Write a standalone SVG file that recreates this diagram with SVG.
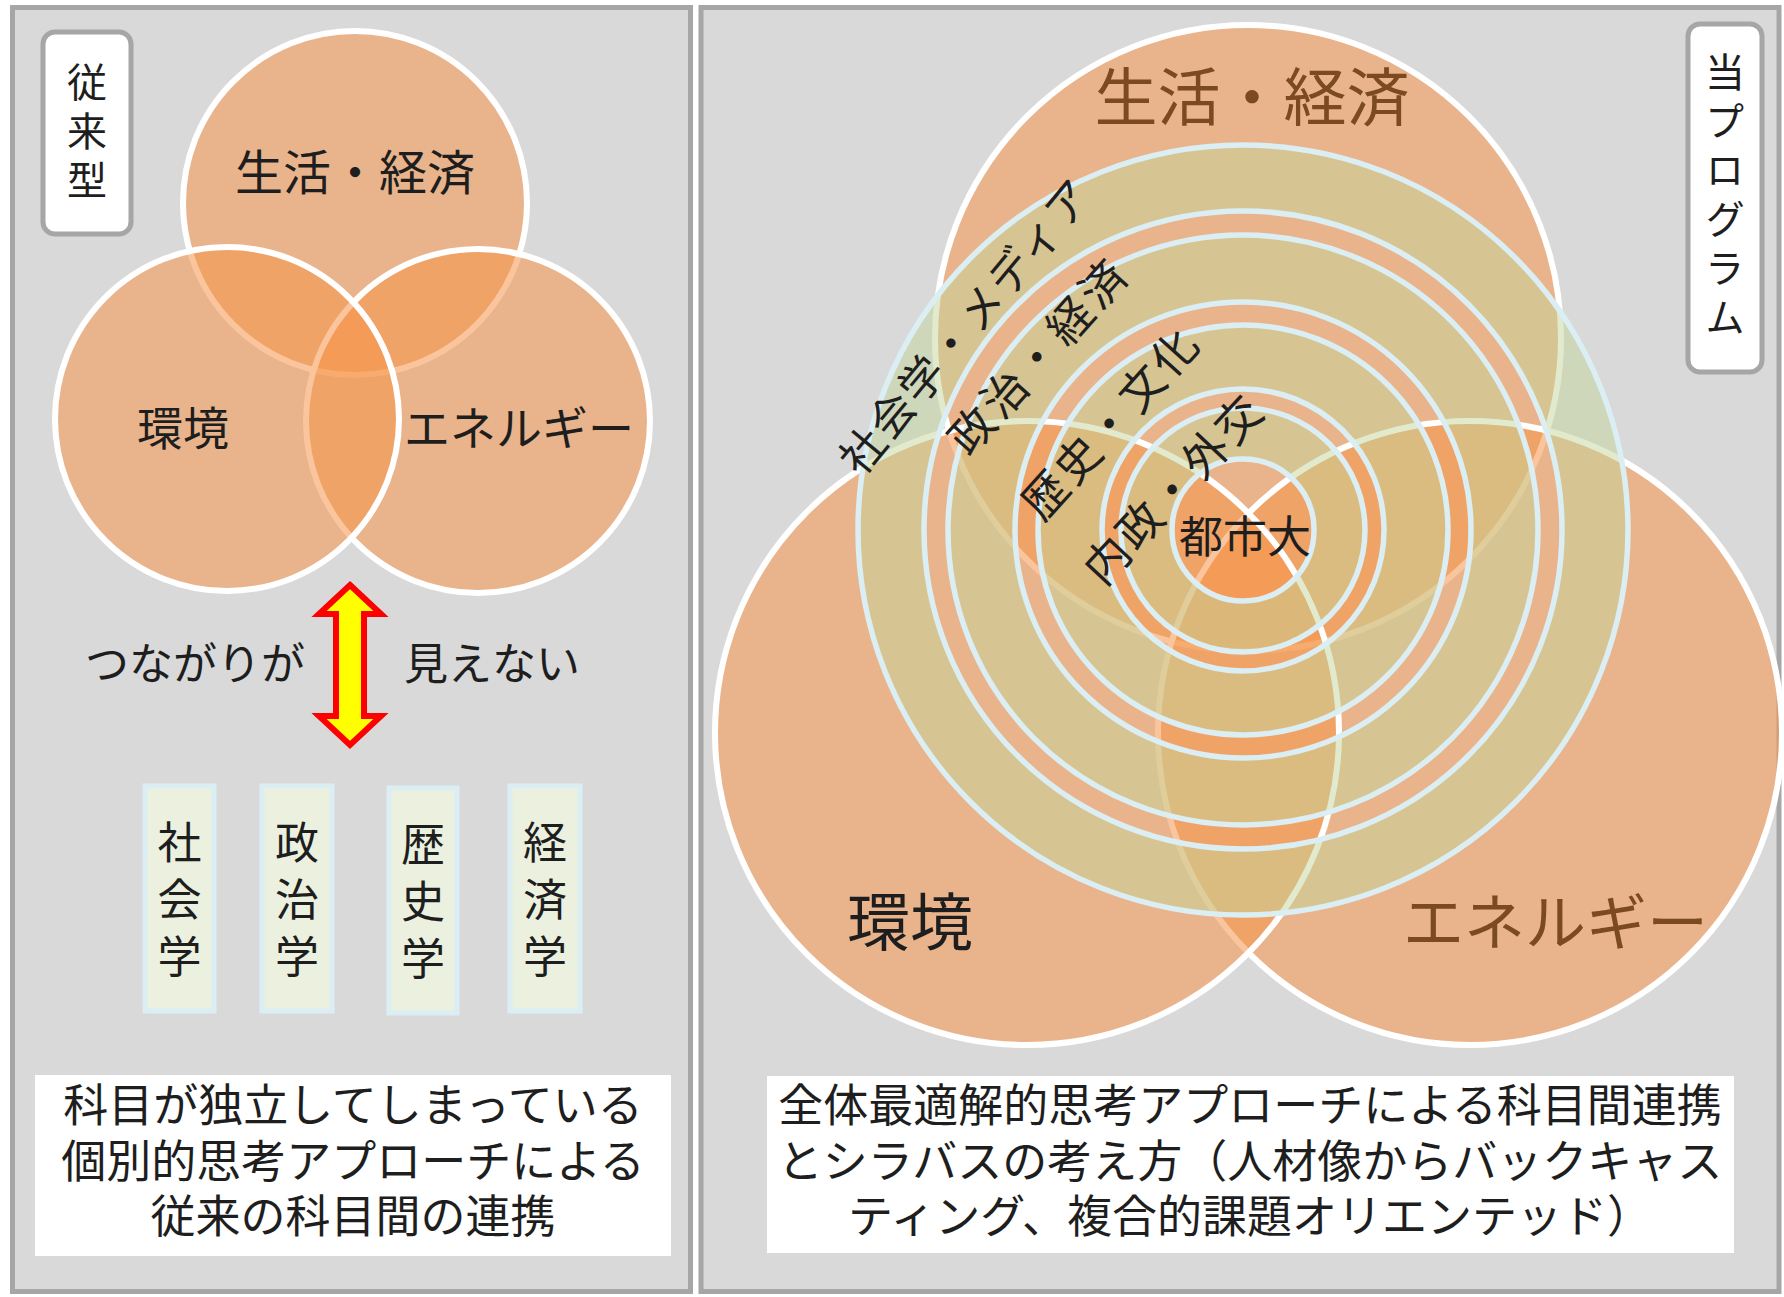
<svg xmlns="http://www.w3.org/2000/svg" width="1784" height="1297" viewBox="0 0 1784 1297">
<style>
text{font-family:"Noto Sans CJK JP","Noto Sans",sans-serif;fill:#1e1e1e}
.v{writing-mode:vertical-rl;text-orientation:upright}
.panel{fill:#d9d9d9;stroke:#a6a6a6;stroke-width:5}
.tag{fill:#ffffff;stroke:#a6a6a6;stroke-width:5}
.venn{fill:#f5964a;fill-opacity:0.55;stroke:#ffffff;stroke-width:6}
.ring{fill:#c3d69b;fill-opacity:0.5;fill-rule:evenodd;stroke:none}
.redge{fill:none;stroke:#daeef3;stroke-width:5.5}
.subj{fill:#ebf1de;stroke:#dbeef4;stroke-width:5}
.note{fill:#ffffff}
.brown{fill:#7b4a20}
.c{text-anchor:middle}
</style>
<rect width="1784" height="1297" fill="#ffffff"/>
<g id="panel-left">
<rect class="panel" x="12.5" y="7.5" width="678" height="1284"/>
</g>
<g id="panel-right">
<rect class="panel" x="701" y="7.5" width="1078" height="1284"/>
</g>
<g id="tag-conventional">
<rect class="tag" x="43" y="32" width="88" height="202" rx="12"/>
<text class="v" x="87" y="62" font-size="40" letter-spacing="9">従来型</text>
</g>
<g id="venn-left">
<circle id="lv-life" class="venn" cx="355" cy="203" r="172"/>
<circle id="lv-energy" class="venn" cx="478" cy="421" r="172"/>
<circle id="lv-env" class="venn" cx="227" cy="419" r="172"/>
<text class="c" x="355" y="190" font-size="48">生活・経済</text>
<text class="c" x="183" y="445" font-size="46">環境</text>
<text x="404" y="445" font-size="46">エネルギー</text>
</g>
<g id="connectors">
<path id="arrow-both" d="M350,585 L381,614 L364,614 L364,716 L381,716 L350,745 L319,716 L336,716 L336,614 L319,614 Z" fill="#ffff00" stroke="#ff0000" stroke-width="6" stroke-linejoin="miter"/>
</g>
<g id="label-invisible">
<text x="85" y="680" font-size="44">つながりが</text>
<text x="404" y="680" font-size="44">見えない</text>
</g>
<g id="subj-sociology">
<rect class="subj" x="145" y="786" width="69" height="225"/>
<text class="v" x="179.5" y="820" font-size="44" letter-spacing="13">社会学</text>
</g>
<g id="subj-politics">
<rect class="subj" x="262" y="786" width="70" height="225"/>
<text class="v" x="297" y="820" font-size="44" letter-spacing="13">政治学</text>
</g>
<g id="subj-history">
<rect class="subj" x="389" y="788" width="68" height="225"/>
<text class="v" x="423" y="822" font-size="44" letter-spacing="13">歴史学</text>
</g>
<g id="subj-economics">
<rect class="subj" x="510" y="786" width="70" height="225"/>
<text class="v" x="545" y="820" font-size="44" letter-spacing="13">経済学</text>
</g>
<g id="note-left">
<rect class="note" x="35" y="1075" width="636" height="181"/>
<text class="c" font-size="45"><tspan x="353" y="1122">科目が独立してしまっている</tspan><tspan x="353" y="1178">個別的思考アプローチによる</tspan><tspan x="353" y="1233">従来の科目間の連携</tspan></text>
</g>
<g id="venn-right">
<circle id="rv-life" class="venn" cx="1248" cy="338" r="313"/>
<circle id="rv-energy" class="venn" cx="1470" cy="733" r="312"/>
<circle id="rv-env" class="venn" cx="1027" cy="733" r="312"/>
</g>
<g id="rings">
<path id="ring-d" class="ring" d="M858,530 a385,385 0 1 0 770,0 a385,385 0 1 0 -770,0 Z M924,530 a319,319 0 1 0 638,0 a319,319 0 1 0 -638,0 Z"/>
<path id="ring-c" class="ring" d="M948,530 a295,295 0 1 0 590,0 a295,295 0 1 0 -590,0 Z M1015,530 a228,228 0 1 0 456,0 a228,228 0 1 0 -456,0 Z"/>
<path id="ring-b" class="ring" d="M1038,530 a205,205 0 1 0 410,0 a205,205 0 1 0 -410,0 Z M1102,530 a141,141 0 1 0 282,0 a141,141 0 1 0 -282,0 Z"/>
<path id="ring-a" class="ring" d="M1121,530 a122,122 0 1 0 244,0 a122,122 0 1 0 -244,0 Z M1172,530 a71,71 0 1 0 142,0 a71,71 0 1 0 -142,0 Z"/>
<circle class="redge" cx="1243" cy="530" r="385"/>
<circle class="redge" cx="1243" cy="530" r="319"/>
<circle class="redge" cx="1243" cy="530" r="295"/>
<circle class="redge" cx="1243" cy="530" r="228"/>
<circle class="redge" cx="1243" cy="530" r="205"/>
<circle class="redge" cx="1243" cy="530" r="141"/>
<circle class="redge" cx="1243" cy="530" r="122"/>
<circle class="redge" cx="1243" cy="530" r="71"/>
</g>
<g id="labels-right">
<text class="c brown" x="1252" y="120" font-size="63">生活・経済</text>
<text x="847" y="945" font-size="63">環境</text>
<text class="brown" x="1403" y="945" font-size="61">エネルギー</text>
<text class="c" x="1245" y="553" font-size="44">都市大</text>
<text class="c" transform="translate(966,326) rotate(-50.4)" x="0" y="16" font-size="44" letter-spacing="2.4">社会学・メディア</text>
<text class="c" transform="translate(1039,356) rotate(-48.2)" x="0" y="16" font-size="45" letter-spacing="4">政治・経済</text>
<text class="c" transform="translate(1111,423) rotate(-48)" x="0" y="16" font-size="45" letter-spacing="3">歴史・文化</text>
<text class="c" transform="translate(1174,489) rotate(-47)" x="0" y="16" font-size="45" letter-spacing="3">内政・外交</text>
</g>
<g id="tag-program">
<rect class="tag" x="1688" y="24" width="74" height="348" rx="12"/>
<text class="v" x="1725" y="52" font-size="40" letter-spacing="9">当プログラム</text>
</g>
<g id="note-right">
<rect class="note" x="767" y="1076" width="967" height="177"/>
<text class="c" font-size="45"><tspan x="1250" y="1122">全体最適解的思考アプローチによる科目間連携</tspan><tspan x="1250" y="1178">とシラバスの考え方（人材像からバックキャス</tspan><tspan x="1250" y="1233">ティング、複合的課題オリエンテッド）</tspan></text>
</g>
</svg>
